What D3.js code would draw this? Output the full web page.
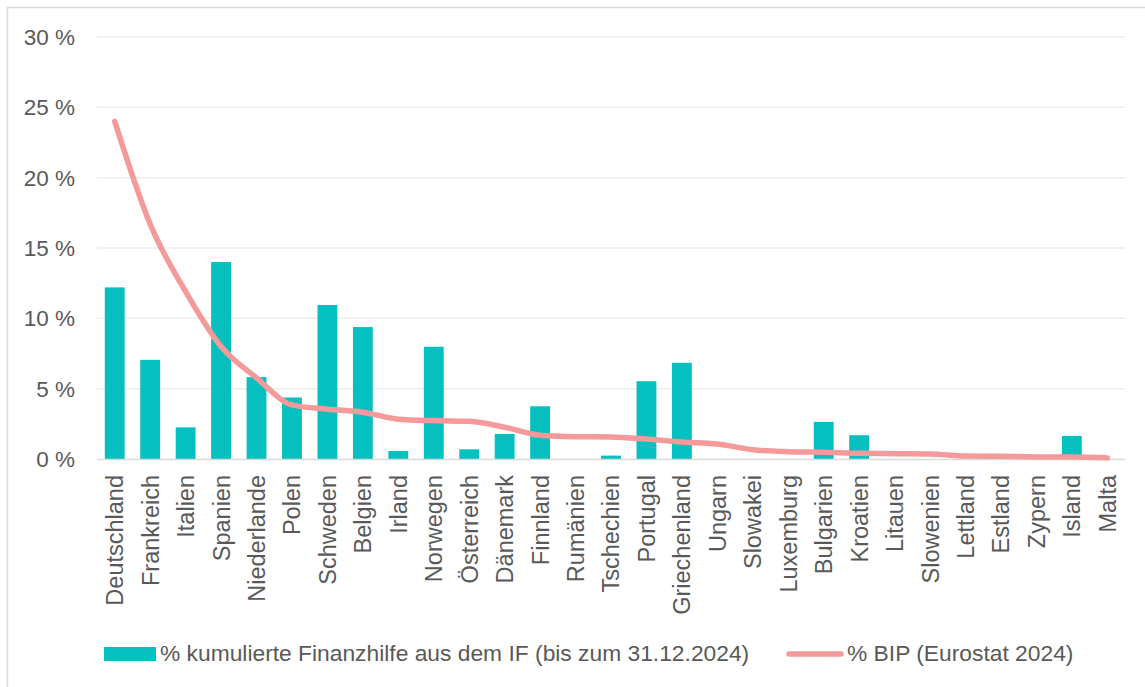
<!DOCTYPE html>
<html>
<head>
<meta charset="utf-8">
<script src="https://cdn.jsdelivr.net/npm/d3@7"></script>
<style>
  html, body { margin: 0; padding: 0; background: #fff; }
  svg { display: block; }
  text { font-family: "Liberation Sans", Arial, sans-serif; fill: #595959; }
</style>
</head>
<body>
<svg id="chart" width="1145" height="687"></svg>
<script>
const categories = ["Deutschland","Frankreich","Italien","Spanien","Niederlande","Polen","Schweden","Belgien","Irland","Norwegen","Österreich","Dänemark","Finnland","Rumänien","Tschechien","Portugal","Griechenland","Ungarn","Slowakei","Luxemburg","Bulgarien","Kroatien","Litauen","Slowenien","Lettland","Estland","Zypern","Island","Malta"];
const finanzhilfe = [12.2,7.05,2.25,14.0,5.82,4.37,10.95,9.38,0.57,7.98,0.69,1.78,3.75,0,0.24,5.53,6.84,0,0,0,2.64,1.69,0,0,0,0,0,1.64,0];
const bip = [24.0,16.7,11.9,8.0,5.77,3.85,3.54,3.33,2.83,2.73,2.68,2.26,1.69,1.59,1.57,1.42,1.21,1.07,0.66,0.52,0.48,0.40,0.38,0.36,0.21,0.19,0.15,0.14,0.08];
const yTicks = [0,5,10,15,20,25,30];
const legendLabels = ["% kumulierte Finanzhilfe aus dem IF (bis zum 31.12.2024)", "% BIP (Eurostat 2024)"];

const barColor = "#06BFBF";
const lineColor = "#F59A9A";

const svg = d3.select("#chart");

// outer border
svg.append("rect").attr("x",7.5).attr("y",7.5).attr("width",1150).attr("height",700)
  .attr("fill","none").attr("stroke","#D9D9D9").attr("stroke-width",1.5);

const x = d3.scaleBand().domain(categories).range([97,1125]).paddingInner(0.44).paddingOuter(0.22);
const y = d3.scaleLinear().domain([0,30]).range([459,37]);

// gridlines
svg.append("g").selectAll("line").data(yTicks.filter(d => d > 0)).join("line")
  .attr("x1",97).attr("x2",1125).attr("y1",d => y(d)).attr("y2",d => y(d))
  .attr("stroke","#EDEDED").attr("stroke-width",1.5);

// y axis labels
const yAxis = d3.axisLeft(y).tickValues(yTicks).tickSize(0).tickPadding(0).tickFormat(d => d + " %");
const gy = svg.append("g").attr("transform","translate(75,0)").call(yAxis);
gy.select(".domain").remove();
gy.selectAll("text").attr("font-size",22.5).attr("fill","#595959")
  .style("font-family","'Liberation Sans', Arial, sans-serif").attr("dy","0.34em");

// bars
svg.append("g").selectAll("rect").data(categories).join("rect")
  .attr("x",d => x(d)).attr("width",x.bandwidth())
  .attr("y",(d,i) => y(finanzhilfe[i])).attr("height",(d,i) => y(0) - y(finanzhilfe[i]))
  .attr("fill",barColor);

// baseline
svg.append("line").attr("x1",97).attr("x2",1125).attr("y1",y(0)+0.5).attr("y2",y(0)+0.5)
  .attr("stroke","#D9D9D9").attr("stroke-width",1.5);

// line
const line = d3.line()
  .x((d,i) => x(categories[i]) + x.bandwidth()/2)
  .y(d => y(d))
  .curve(d3.curveMonotoneX);
svg.append("path").datum(bip).attr("d",line)
  .attr("fill","none").attr("stroke",lineColor).attr("stroke-width",5.5)
  .attr("stroke-linecap","round").attr("stroke-linejoin","round");

// x axis labels
const xAxis = d3.axisBottom(x).tickSize(0).tickPadding(0);
const gx = svg.append("g").attr("transform","translate(0,475)").call(xAxis);
gx.select(".domain").remove();
gx.selectAll("text")
  .attr("font-size",23.5).attr("fill","#595959")
  .style("font-family","'Liberation Sans', Arial, sans-serif")
  .attr("text-anchor","end")
  .attr("transform","rotate(-90)")
  .attr("x",0).attr("y",0).attr("dy","0.36em");

// legend
const lg = svg.append("g");
lg.append("rect").attr("x",104).attr("y",647).attr("width",52).attr("height",14).attr("fill",barColor);
lg.append("text").attr("x",160).attr("y",661).attr("font-size",22.8).text(legendLabels[0]);
lg.append("line").attr("x1",789).attr("x2",841).attr("y1",654).attr("y2",654)
  .attr("stroke",lineColor).attr("stroke-width",5.5).attr("stroke-linecap","round");
lg.append("text").attr("x",847).attr("y",661).attr("font-size",22.8).text(legendLabels[1]);
</script>
</body>
</html>
